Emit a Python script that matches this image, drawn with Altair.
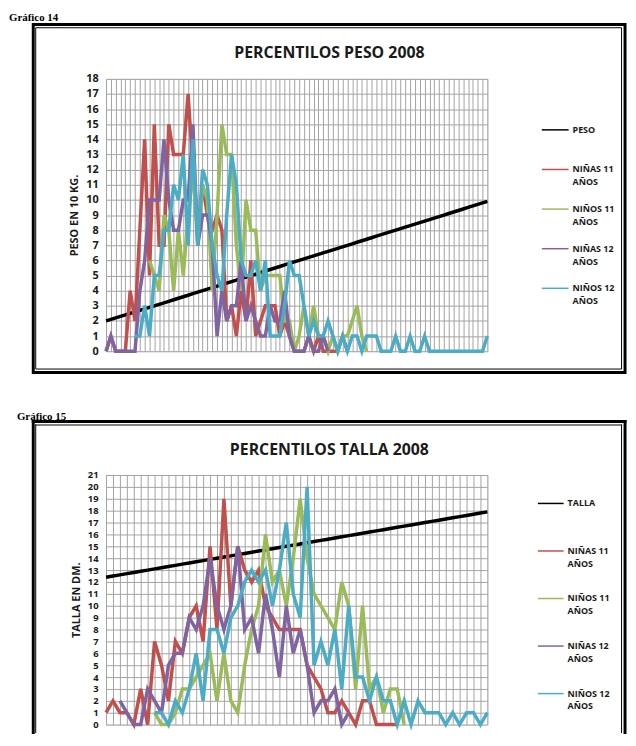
import altair as alt
import pandas as pd

N = None

# ---------------- Gráfico 14 : PERCENTILOS PESO 2008 ----------------
PESO_CAT = list(range(20, 100))  # categorías (kg)
PESO = [2.0, 2.1, 2.2, 2.3, 2.4, 2.5, 2.6, 2.7, 2.8, 2.9,
        3.0, 3.1, 3.2, 3.3, 3.4, 3.5, 3.6, 3.7, 3.8, 3.9,
        4.0, 4.1, 4.2, 4.3, 4.4, 4.5, 4.6, 4.7, 4.8, 4.9,
        5.0, 5.1, 5.2, 5.3, 5.4, 5.5, 5.6, 5.7, 5.8, 5.9,
        6.0, 6.1, 6.2, 6.3, 6.4, 6.5, 6.6, 6.7, 6.8, 6.9,
        7.0, 7.1, 7.2, 7.3, 7.4, 7.5, 7.6, 7.7, 7.8, 7.9,
        8.0, 8.1, 8.2, 8.3, 8.4, 8.5, 8.6, 8.7, 8.8, 8.9,
        9.0, 9.1, 9.2, 9.3, 9.4, 9.5, 9.6, 9.7, 9.8, 9.9]
NINAS11_P = [0, 1, 0, 0, 0, 4, 2, 8, 14, 5,
             15, 7, 7, 15, 13, 13, 13, 17, 12, 8,
             11, 9, 8, 9, 8, 2, 3, 1, 4, 2,
             6, 1, 2, 3, 3, 3, 1, 2, 1, 0,
             0, 0, 1, 0, 1, 0, 0, 0, 0, 1,
             0] + [N] * 29
NINOS11_P = [N] * 9 + [6, 5, 4, 9, 8, 4, 8, 5, 9, 12,
                       7, 11, 10, 4, 9, 15, 13, 13, 7, 4,
                       10, 8, 8, 4, 5, 5, 5, 5, 2, 2,
                       0, 1, 3, 1, 3, 1, 1, 0, 1, 0,
                       1, 1, 2, 3, 1, 0] + [N] * 25
NINAS12_P = [0, 1, 0, 0, 0, 0, 0, 4, 6, 10,
             10, 10, 14, 10, 8, 8, 10, 10, 15, 7,
             9, 9, 7, 1, 4, 2, 3, 3, 6, 2,
             3, 2, 1, 1, 3, 2, 2, 4, 1, 0,
             0, 0, 1, 0, 0, 1, 0] + [N] * 33
NINOS12_P = [N] * 6 + [1, 1, 3, 1,
                       5, 5, 8, 8, 11, 10, 13, 7, 14, 7,
                       12, 11, 7, 5, 4, 9, 13, 11, 6, 5,
                       5, 6, 4, 6, 1, 1, 1, 3, 6, 5,
                       5, 3, 1, 2, 1, 1, 2, 1, 0, 1,
                       0, 1, 1, 0, 1, 1, 1, 0, 0, 0,
                       1, 0, 0, 1, 0, 0, 1, 0, 0, 0,
                       0, 0, 0, 0, 0, 0, 0, 0, 0, 1]

# ---------------- Gráfico 15 : PERCENTILOS TALLA 2008 ----------------
TALLA_CAT = list(range(124, 180))  # categorías (cm)
TALLA = [12.4, 12.5, 12.6, 12.7, 12.8, 12.9,
         13.0, 13.1, 13.2, 13.3, 13.4, 13.5, 13.6, 13.7, 13.8, 13.9,
         14.0, 14.1, 14.2, 14.3, 14.4, 14.5, 14.6, 14.7, 14.8, 14.9,
         15.0, 15.1, 15.2, 15.3, 15.4, 15.5, 15.6, 15.7, 15.8, 15.9,
         16.0, 16.1, 16.2, 16.3, 16.4, 16.5, 16.6, 16.7, 16.8, 16.9,
         17.0, 17.1, 17.2, 17.3, 17.4, 17.5, 17.6, 17.7, 17.8, 17.9]
NINAS11_T = [1, 2, 1, 1, 0, 3, 0, 7, 5, 2,
             7, 6, 9, 10, 7, 15, 8, 19, 10, 15,
             13, 12, 13, 10, 9, 8, 8, 8, 8, 5,
             4, 3, 1, 1, 2, 1, 0, 2, 2, 0,
             0, 0, 0] + [N] * 13
NINOS11_T = [N] * 7 + [1, 0, 0,
                       1, 3, 3, 4, 5, 6, 2, 6, 2, 1,
                       5, 8, 10, 16, 12, 13, 10, 14, 19, 14,
                       11, 10, 9, 8, 12, 10, 3, 10, 3, 4,
                       1, 3, 3, 0] + [N] * 12
NINAS12_T = [N] * 2 + [2, 1, 0, 0, 3, 2, 1, 5,
                       6, 6, 9, 8, 10, 14, 10, 8, 10, 15,
                       8, 9, 6, 11, 8, 4, 10, 6, 8, 5,
                       1, 2, 2, 3, 0, 1] + [N] * 20
NINOS12_T = [N] * 7 + [1, 1, 0,
                       2, 1, 3, 6, 2, 8, 8, 6, 9, 10,
                       12, 13, 12, 13, 10, 13, 17, 11, 9, 20,
                       5, 7, 5, 8, 3, 10, 4, 4, 2, 4,
                       2, 2, 0, 2, 0, 2, 1, 1, 1, 0,
                       1, 0, 1, 1, 0, 1]

NAMES_P = ["PESO", "NIÑAS 11 AÑOS", "NIÑOS 11 AÑOS", "NIÑAS 12 AÑOS", "NIÑOS 12 AÑOS"]
NAMES_T = ["TALLA", "NIÑAS 11 AÑOS", "NIÑOS 11 AÑOS", "NIÑAS 12 AÑOS", "NIÑOS 12 AÑOS"]
COLORS = ["#000000", "#C0504D", "#9BBB59", "#8064A2", "#4BACC6"]

GRID = "#a3a3a3"
TXT = "#1a1a1a"
FONT = "Open Sans"

LABEL_EXPR = ("(datum.label == 'PESO' || datum.label == 'TALLA') ? [datum.label, ''] : "
              "[slice(datum.label, 0, 8), slice(datum.label, 9)]")


def panel(cats, series, names, ymax, height, label_size, title, title_y, caption, cap_x, cap_y,
          ytitle, leg_x, leg_y, leg_row, sym_len, frame_top, frame_bottom, closed):
    rows = []
    for name, vals in zip(names, series):
        for c, v in zip(cats, vals):
            if v is not None:
                rows.append({"x": c, "y": v, "serie": name})
    df = pd.DataFrame(rows)

    xenc = alt.X("x:Q",
                 scale=alt.Scale(domain=[cats[0], cats[-1]], nice=False, zero=False),
                 axis=alt.Axis(values=cats, labels=False, ticks=False, domain=False,
                               title=None, grid=True, gridColor=GRID, gridWidth=1))
    yenc = alt.Y("y:Q",
                 scale=alt.Scale(domain=[0, ymax], nice=False),
                 axis=alt.Axis(values=list(range(ymax + 1)), grid=True, gridColor=GRID,
                               gridWidth=1, domain=False, ticks=False, labelPadding=8,
                               labelFont=FONT, labelFontWeight="bold", labelFontSize=label_size,
                               labelLineHeight=label_size, labelColor=TXT, title=ytitle,
                               titleFont=FONT, titleFontWeight="bold", titleFontSize=11,
                               titleColor=TXT, titlePadding=6))
    legend = alt.Legend(orient="none", legendX=leg_x, legendY=leg_y, title=None,
                        labelExpr=LABEL_EXPR, symbolType="stroke",
                        symbolSize=sym_len * sym_len, symbolStrokeWidth=1.5,
                        labelFont=FONT, labelFontWeight="bold", labelFontSize=9,
                        labelColor=TXT, labelOffset=3, rowPadding=leg_row, padding=0,
                        labelLimit=300)
    color = alt.Color("serie:N", scale=alt.Scale(domain=names, range=COLORS), legend=legend)

    layers = []
    for name in names:
        layers.append(
            alt.Chart(df).transform_filter(alt.datum.serie == name)
            .mark_line(strokeWidth=3.5)
            .encode(x=xenc, y=yenc, color=color)
        )

    dummy = pd.DataFrame({"k": [0]})
    # frame (double border)
    if closed:
        layers.append(alt.Chart(dummy).mark_rect(fillOpacity=0, stroke="black", strokeWidth=3)
                      .encode(x=alt.value(-73.5), x2=alt.value(524),
                              y=alt.value(frame_top), y2=alt.value(frame_bottom)))
        layers.append(alt.Chart(dummy).mark_rect(fillOpacity=0, stroke="black", strokeWidth=1)
                      .encode(x=alt.value(-71), x2=alt.value(520.5),
                              y=alt.value(frame_top + 3.2), y2=alt.value(frame_bottom - 3.5)))
    else:
        for (xa, xb, ya, yb, sw) in [(-73.5, 524, frame_top, None, 3),
                                     (-73.5, None, frame_top, frame_bottom, 3),
                                     (524, None, frame_top, frame_bottom, 3),
                                     (-71, 520.5, frame_top + 3.5, None, 1),
                                     (-71, None, frame_top + 3.5, frame_bottom, 1),
                                     (520.5, None, frame_top + 3.5, frame_bottom, 1)]:
            enc = {"x": alt.value(xa), "y": alt.value(ya)}
            if xb is not None:
                enc["x2"] = alt.value(xb)
            if yb is not None:
                enc["y2"] = alt.value(yb)
            layers.append(alt.Chart(dummy).mark_rule(color="black", strokeWidth=sw,
                                                     strokeCap="square").encode(**enc))
    # chart title
    layers.append(alt.Chart(dummy).mark_text(text=title, font=FONT, fontWeight="bold",
                                             fontSize=16, color=TXT, align="center",
                                             baseline="alphabetic")
                  .encode(x=alt.value(225.5), y=alt.value(title_y)))
    # caption
    layers.append(alt.Chart(dummy).mark_text(text=caption, font="Liberation Serif",
                                             fontWeight="bold", fontSize=11, color="black",
                                             align="left", baseline="top")
                  .encode(x=alt.value(cap_x), y=alt.value(cap_y)))

    return alt.layer(*layers).properties(width=385, height=height)


p1 = panel(PESO_CAT, [PESO, NINAS11_P, NINOS11_P, NINAS12_P, NINOS12_P], NAMES_P,
           18, 275, 11, "PERCENTILOS PESO 2008", -21, "Gráfico 14", -98, -67,
           "PESO EN 10 KG.", 439, 37, 7, 27, -54.8, 296.5, True)
p2 = panel(TALLA_CAT, [TALLA, NINAS11_T, NINOS11_T, NINAS12_T, NINOS12_T], NAMES_T,
           21, 252, 9.5, "PERCENTILOS TALLA 2008", -20, "Gráfico 15", -90, -65,
           "TALLA EN DM.", 435, 14.7, 16, 26, -54, 260, False)

chart = (alt.vconcat(p1, p2, spacing=125, bounds="flush", padding=0)
         .resolve_scale(color="independent")
         .configure_view(strokeWidth=0)
         .configure(background="white", style={"guide-label": {"lineHeight": 13}}))

chart.save("out.html", embed_options={"renderer": "svg", "actions": False})
